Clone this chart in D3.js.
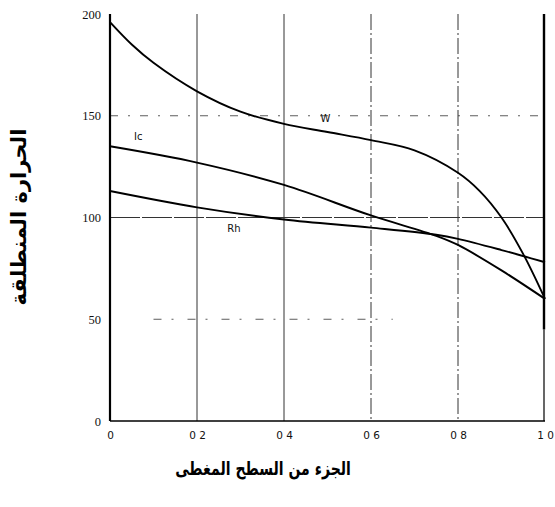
<!DOCTYPE html>
<html lang="ar">
<head>
  <meta charset="UTF-8">
  <title>الحرارة المنطلقة</title>
  <script src="https://d3js.org/d3.v7.min.js"></script>
  <style>
    body { margin: 0; background: #fff; }
    svg { display: block; }
    .tick-label { font-family: "Liberation Serif", serif; font-size: 12.5px; fill: #111; }
    .x-label { font-family: "DejaVu Sans", sans-serif; font-size: 10.5px; fill: #111; }
    .title { font-family: "DejaVu Sans", sans-serif; font-weight: bold; fill: #000; }
    .curve { fill: none; stroke: #000; stroke-width: 1.9px; }
    .curve-label { font-family: "DejaVu Sans", sans-serif; font-size: 10px; fill: #111; }
  </style>
</head>
<body>
<svg width="555" height="507"></svg>
<script>
// values
const xTicks = [0, 0.2, 0.4, 0.6, 0.8, 1.0];
const xTickLabels = ["0", "0 2", "0 4", "0 6", "0 8", "1 0"];
const yTicks = [0, 50, 100, 150, 200];
const yTickLabels = ["0", "50", "100", "150", "200"];

const wX = [0, 0.05, 0.1, 0.2, 0.3, 0.4, 0.5, 0.6, 0.7, 0.8, 0.85, 0.9, 0.95, 1.0];
const wY = [196, 185, 176, 162, 152, 146, 142, 138, 133, 122, 113, 100, 82, 60];

const icX = [0, 0.2, 0.4, 0.6, 0.75, 0.8, 0.9, 1.0];
const icY = [135, 127, 116, 101, 91, 86.5, 74, 60];

const rhX = [0, 0.2, 0.4, 0.6, 0.75, 0.8, 0.9, 1.0];
const rhY = [113, 105, 99, 95, 91.5, 89.5, 84, 78];

const curveLabels = [
  { name: "W", x: 0.495, y: 147 },
  { name: "Ic", x: 0.065, y: 138 },
  { name: "Rh", x: 0.285, y: 93 }
];

const svg = d3.select("svg");

const x = d3.scaleLinear().domain([0, 1]).range([110, 545]);
const y = d3.scaleLinear().domain([0, 200]).range([421, 14]);

// grid
const grid = svg.append("g").attr("stroke", "#333").attr("fill", "none");
[0.2, 0.4].forEach(v => {
  grid.append("line")
    .attr("x1", x(v)).attr("x2", x(v))
    .attr("y1", y(200)).attr("y2", y(0))
    .attr("stroke-width", 1);
});
[0.6, 0.8].forEach(v => {
  grid.append("line")
    .attr("x1", x(v)).attr("x2", x(v))
    .attr("y1", y(200)).attr("y2", y(0))
    .attr("stroke-width", 1)
    .attr("stroke-dasharray", "16,3,2,3");
});
grid.append("line")
  .attr("x1", x(0)).attr("x2", x(1))
  .attr("y1", y(100)).attr("y2", y(100))
  .attr("stroke-width", 1)
  .attr("stroke-dasharray", "30,2");
grid.append("line")
  .attr("x1", x(0)).attr("x2", x(1))
  .attr("y1", y(150)).attr("y2", y(150))
  .attr("stroke-width", 0.8)
  .attr("stroke-dasharray", "8,10,2,10");
grid.append("line")
  .attr("x1", x(0.1)).attr("x2", x(0.65))
  .attr("y1", y(50)).attr("y2", y(50))
  .attr("stroke-width", 0.8)
  .attr("stroke-dasharray", "8,10,2,14");

// axes frame
svg.append("line")
  .attr("x1", x(0)).attr("x2", x(0))
  .attr("y1", y(200)).attr("y2", y(0))
  .attr("stroke", "#000").attr("stroke-width", 2.2);
svg.append("line")
  .attr("x1", x(0)).attr("x2", x(1))
  .attr("y1", y(0)).attr("y2", y(0))
  .attr("stroke", "#000").attr("stroke-width", 1.5);
svg.append("line")
  .attr("x1", x(1) - 1).attr("x2", x(1) - 1)
  .attr("y1", y(200)).attr("y2", y(45))
  .attr("stroke", "#000").attr("stroke-width", 2.4);
svg.append("line")
  .attr("x1", x(1) - 1).attr("x2", x(1) - 1)
  .attr("y1", y(45)).attr("y2", y(0))
  .attr("stroke", "#000").attr("stroke-width", 1.2);

// tick labels through axes
const yAxis = svg.append("g")
  .attr("transform", `translate(${x(0) - 6},0)`)
  .call(d3.axisLeft(y).tickValues(yTicks).tickSize(0)
    .tickFormat((d, i) => yTickLabels[i]));
yAxis.select(".domain").remove();
yAxis.selectAll("text").attr("class", "tick-label").attr("font-size", null).attr("font-family", null);

const xAxis = svg.append("g")
  .attr("transform", `translate(0,${y(0) + 8})`)
  .call(d3.axisBottom(x).tickValues(xTicks).tickSize(0)
    .tickFormat((d, i) => xTickLabels[i]));
xAxis.select(".domain").remove();
xAxis.selectAll("text").attr("class", "x-label").attr("font-size", null).attr("font-family", null);

// curves
const line = d3.line()
  .x(d => x(d[0]))
  .y(d => y(d[1]))
  .curve(d3.curveCatmullRom.alpha(0.5));

[[wX, wY], [icX, icY], [rhX, rhY]].forEach(([xs, ys]) => {
  svg.append("path")
    .attr("class", "curve")
    .attr("d", line(xs.map((v, i) => [v, ys[i]])));
});

svg.selectAll(".curve-label")
  .data(curveLabels)
  .join("text")
  .attr("class", "curve-label")
  .attr("x", d => x(d.x))
  .attr("y", d => y(d.y))
  .attr("text-anchor", "middle")
  .text(d => d.name);

// titles
svg.append("text")
  .attr("class", "title")
  .attr("font-size", 21)
  .attr("direction", "rtl")
  .attr("text-anchor", "middle")
  .attr("transform", `translate(26,217) rotate(-90)`)
  .text("الحرارة المنطلقة");

svg.append("text")
  .attr("class", "title")
  .attr("font-size", 19)
  .attr("direction", "rtl")
  .attr("text-anchor", "middle")
  .attr("transform", "translate(263,475) scale(0.74,1)")
  .text("الجزء من السطح المغطى");
</script>
</body>
</html>
